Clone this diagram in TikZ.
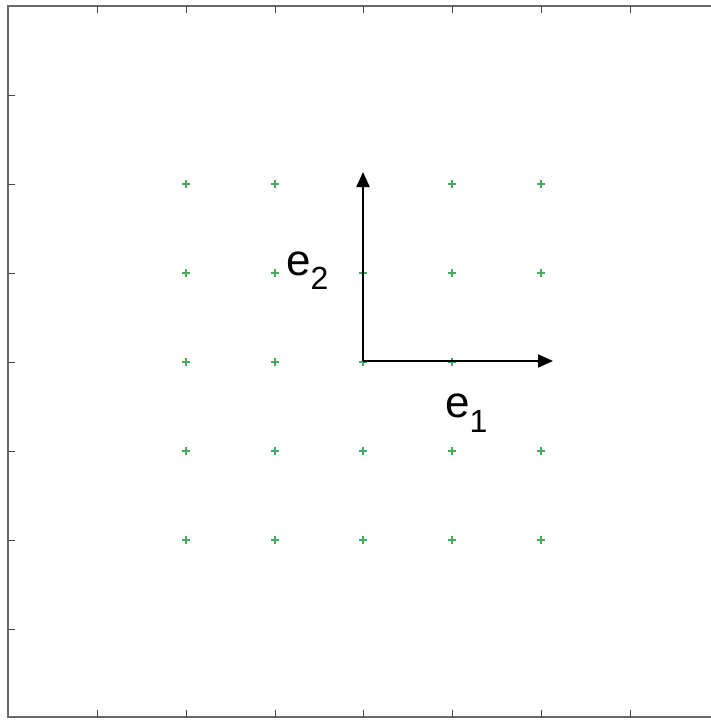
\documentclass[tikz,border=0pt]{standalone}
\usepackage{fontspec}
\setmainfont{Liberation Sans}
\usepackage{xcolor}
\usepackage{tikz}
\usetikzlibrary{arrows.meta}
\definecolor{framegray}{RGB}{105, 105, 105}
\definecolor{tickgray}{RGB}{70, 70, 70}
\definecolor{markgreen}{RGB}{70, 170, 95}

\begin{document}
\begin{tikzpicture}[
    x=1pt, y=-1pt,
    frameline/.style={draw=framegray, line width=1.6pt},
    tickline/.style={draw=tickgray, line width=1pt},
    plusmark/.style={draw=markgreen, line width=1.4pt},
    basis/.style={-{Triangle[length=15pt, width=13pt]}, line width=2pt, black},
    vlabel/.style={inner sep=0pt, anchor=base west, font=\fontsize{44}{48}\selectfont}
]
\useasboundingbox (0,0) rectangle (711,720);
\fill[white] (0,0) rectangle (711,720);

% Axes box (right side falls outside the picture)
\draw[frameline] (711,6) -- (8,6) -- (8,717) -- (711,717);

% Ticks
\foreach \t in {97,186,275,363,452,541,630} {
  \draw[tickline] (\t,6) -- (\t,13);
  \draw[tickline] (\t,717) -- (\t,710);
}
\foreach \t in {95,184,273,362,451,540,629} {
  \draw[tickline] (8,\t) -- (15,\t);
}

% Lattice points
\foreach \i in {186,275,363,452,541} {
  \foreach \j in {184,273,362,451,540} {
    \draw[plusmark] (\i-4,\j) -- (\i+4,\j) (\i,\j-4) -- (\i,\j+4);
  }
}

% Basis vectors
\coordinate (o) at (363,361);
\coordinate (tip1) at (553,361);
\coordinate (tip2) at (363,172);
\draw[basis] (o) -- (tip1);
\draw[basis] (o) -- (tip2);

\node[vlabel] (lab1) at (445,417) {e\raisebox{-15pt}{\fontsize{32}{32}\selectfont 1}};
\node[vlabel] (lab2) at (286,275) {e\raisebox{-14pt}{\fontsize{32}{32}\selectfont 2}};

\end{tikzpicture}
\end{document}
